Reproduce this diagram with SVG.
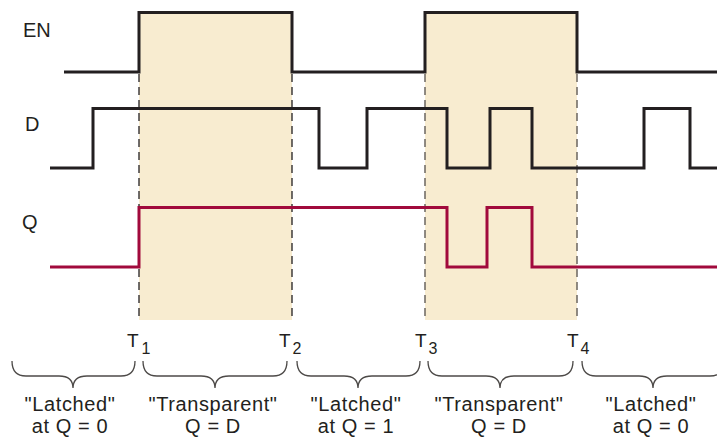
<svg xmlns="http://www.w3.org/2000/svg" width="717" height="440" viewBox="0 0 717 440">
<style>
.bg{fill:#ffffff}
.shade{fill:#f8ecd0}
.sig{fill:none;stroke:#231f20;stroke-width:3;stroke-linejoin:miter}
.q{fill:none;stroke:#a10a3c;stroke-width:3;stroke-linejoin:miter}
.dash{stroke:#231f20;stroke-width:1.3;stroke-dasharray:8 5}
.dash2{stroke:#6b655f;stroke-width:1.5;stroke-dasharray:8 5}
.brace{fill:none;stroke:#4d4a48;stroke-width:1.3}
text{font-family:"Liberation Sans",Arial,sans-serif;fill:#231f20}
.lbl{font-size:20px}
.t{font-size:19px}
.sub{font-size:16px}
.cap{font-size:20px;text-anchor:middle;letter-spacing:0.6px}
</style>
<rect class="bg" x="0" y="0" width="717" height="440"/>
<g id="shading">
<rect class="shade" x="139" y="12" width="153" height="308"/>
<rect class="shade" x="425" y="12" width="152" height="308"/>
</g>
<g id="time-markers">
<line class="dash" x1="139" y1="74" x2="139" y2="320"/>
<line class="dash" x1="292" y1="74" x2="292" y2="320"/>
<line class="dash2" x1="425" y1="74" x2="425" y2="320"/>
<line class="dash2" x1="577" y1="74" x2="577" y2="320"/>
</g>
<g id="connectors">
<path id="EN-signal" class="sig" d="M64,72 H139 V12.5 H292 V72 H425 V12.5 H577 V72 H717"/>
<path id="D-signal" class="sig" d="M50,168 H93 V108.5 H319 V168 H367 V108.5 H447 V168 H490 V108.5 H532 V168 H644 V108.5 H690 V168 H717"/>
<path id="Q-signal" class="q" d="M50,267 H139 V207.5 H447 V267 H487 V207.5 H532 V267 H717"/>
</g>
<g id="labels">
<text class="lbl" x="23" y="37">EN</text>
<text class="lbl" x="25" y="131">D</text>
<text class="lbl" x="22" y="229">Q</text>
</g>
<g id="T1"><text class="t" x="127" y="347">T<tspan class="sub" dx="3" dy="7">1</tspan></text></g>
<g id="T2"><text class="t" x="279" y="347">T<tspan class="sub" dx="2" dy="7">2</tspan></text></g>
<g id="T3"><text class="t" x="415" y="347">T<tspan class="sub" dx="2" dy="7">3</tspan></text></g>
<g id="T4"><text class="t" x="567" y="347">T<tspan class="sub" dx="2" dy="7">4</tspan></text></g>
<g id="braces">
<path class="brace" d="M12,361 Q12,376 26,376 H59 Q73,376 73,388 Q73,376 87,376 H121 Q135,376 135,361"/>
<path class="brace" d="M143,361 Q143,376 157,376 H201 Q215,376 215,388 Q215,376 229,376 H273 Q287,376 287,361"/>
<path class="brace" d="M297,361 Q297,376 311,376 H344 Q358,376 358,388 Q358,376 372,376 H406 Q420,376 420,361"/>
<path class="brace" d="M428,361 Q428,376 442,376 H486 Q500,376 500,388 Q500,376 514,376 H559 Q573,376 573,361"/>
<path class="brace" d="M582,361 Q582,376 596,376 H639 Q653,376 653,388 Q653,376 667,376 H710 Q724,376 724,361"/>
</g>
<g id="region1"><text class="cap" x="70" y="411">"Latched"</text><text class="cap" x="70" y="433">at Q = 0</text></g>
<g id="region2"><text class="cap" x="213" y="411">"Transparent"</text><text class="cap" x="213" y="433">Q = D</text></g>
<g id="region3"><text class="cap" x="356" y="411">"Latched"</text><text class="cap" x="356" y="433">at Q = 1</text></g>
<g id="region4"><text class="cap" x="499" y="411">"Transparent"</text><text class="cap" x="499" y="433">Q = D</text></g>
<g id="region5"><text class="cap" x="651" y="411">"Latched"</text><text class="cap" x="651" y="433">at Q = 0</text></g>
</svg>
